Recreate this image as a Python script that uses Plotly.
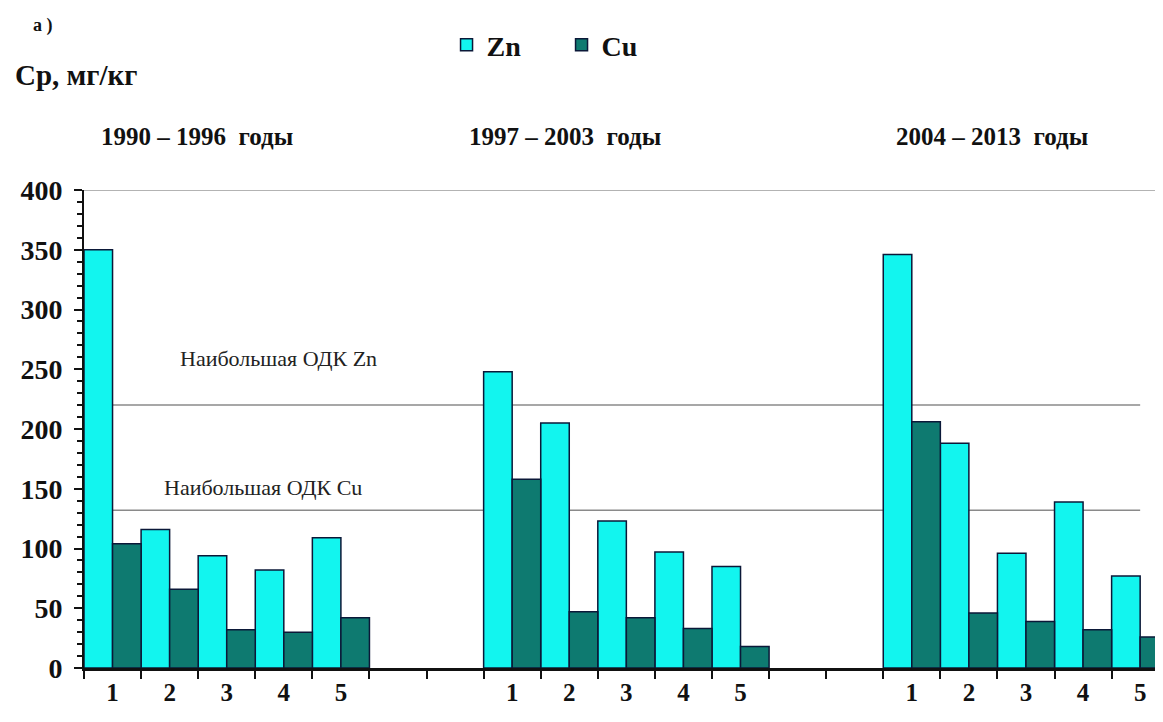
import plotly.graph_objects as go

# ---- data ----
groups = ["1990 – 1996  годы", "1997 – 2003  годы", "2004 – 2013  годы"]
sites = ["1", "2", "3", "4", "5"]
zn_1990 = [350, 116, 94, 82, 109]
cu_1990 = [104, 66, 32, 30, 42]
zn_1997 = [248, 205, 123, 97, 85]
cu_1997 = [158, 47, 42, 33, 18]
zn_2004 = [346, 188, 96, 139, 77]
cu_2004 = [206, 46, 39, 32, 26]
odk_zn = 220
odk_cu = 132
y_ticks = [0, 50, 100, 150, 200, 250, 300, 350, 400]

# positions: 5 sites per period, 2 empty slots between periods
GROUP_STEP = 7
xc = []
labels = []
for g in range(3):
    for k in range(5):
        xc.append(g * GROUP_STEP + k + 0.5)
        labels.append(sites[k])
zn = zn_1990 + zn_1997 + zn_2004
cu = cu_1990 + cu_1997 + cu_2004

SERIF = "'Times New Roman', 'Liberation Serif', 'DejaVu Serif', serif"
ZN_COLOR = "#12F5EF"
CU_COLOR = "#0E7A70"
EDGE = "#0B1838"

fig = go.Figure()
fig.add_trace(go.Bar(x=xc, y=zn, name="Zn", width=0.5, offset=-0.5,
                     marker=dict(color=ZN_COLOR, line=dict(color=EDGE, width=1.5))))
fig.add_trace(go.Bar(x=xc, y=cu, name="Cu", width=0.5, offset=0.0,
                     marker=dict(color=CU_COLOR, line=dict(color=EDGE, width=1.5))))

XMAX = 18.9
shapes = [
    dict(type="line", xref="paper", yref="y", x0=0, x1=1, y0=400, y1=400,
         line=dict(color="#9a9a9a", width=1.5), layer="below"),
    dict(type="line", xref="x", yref="y", x0=0, x1=18.5, y0=odk_zn, y1=odk_zn,
         line=dict(color="#8a8a8a", width=1.5), layer="below"),
    dict(type="line", xref="x", yref="y", x0=0, x1=18.5, y0=odk_cu, y1=odk_cu,
         line=dict(color="#8a8a8a", width=1.5), layer="below"),
]

annotations = [
    dict(text="Наибольшая ОДК Zn", x=3.4, y=259, xref="x", yref="y",
         showarrow=False, font=dict(family=SERIF, size=22, color="#222")),
    dict(text="Наибольшая ОДК Cu", x=3.13, y=151, xref="x", yref="y",
         showarrow=False, font=dict(family=SERIF, size=22, color="#222")),
    dict(text="<b>Ср, мг/кг</b>", x=-0.0658, y=1.2406, xref="paper", yref="paper",
         xanchor="left", yanchor="middle", showarrow=False,
         font=dict(family=SERIF, size=29, color="#111")),
    dict(text="<b>а )</b>", x=-0.049, y=1.345, xref="paper", yref="paper",
         xanchor="left", yanchor="middle", showarrow=False,
         font=dict(family=SERIF, size=18, color="#111")),
]
title_x = [0.105, 0.446, 0.8415]
for g in range(3):
    annotations.append(dict(text="<b>" + groups[g] + "</b>", x=title_x[g], y=1.111,
                            xref="paper", yref="paper", xanchor="center", yanchor="middle",
                            showarrow=False, font=dict(family=SERIF, size=25, color="#111")))

fig.update_layout(
    width=1155, height=714,
    margin=dict(l=76, r=0, t=182, b=54),
    paper_bgcolor="white", plot_bgcolor="white",
    barmode="overlay",
    shapes=shapes, annotations=annotations,
    showlegend=True,
    legend=dict(orientation="h", x=0.336, y=1.303, xanchor="left", yanchor="middle",
                font=dict(family=SERIF, size=28, color="#111", weight="bold"),
                entrywidth=70, bgcolor="rgba(0,0,0,0)"),
    xaxis=dict(range=[0, XMAX], tickmode="array", tickvals=xc, ticktext=labels,
               ticks="", ticklen=0, showgrid=False, zeroline=False,
               showline=True, linecolor="#111", linewidth=2.5,
               ticklabelstandoff=0,
               tickfont=dict(family=SERIF, size=25, color="#111", weight="bold"),
               minor=dict(tickmode="linear", tick0=0, dtick=1, ticks="outside",
                          ticklen=8, tickwidth=1.5, tickcolor="#111", showgrid=False)),
    yaxis=dict(range=[0, 400], tickmode="array", tickvals=y_ticks,
               ticks="outside", ticklen=8, tickwidth=2, tickcolor="#111",
               showgrid=False, zeroline=False, showline=True, linecolor="#111",
               linewidth=2, ticklabelstandoff=6,
               tickfont=dict(family=SERIF, size=28, color="#111", weight="bold"),
               minor=dict(tickmode="linear", tick0=0, dtick=10, ticks="outside",
                          ticklen=5, tickwidth=1.5, tickcolor="#111", showgrid=False)),
)

fig.write_html("out.html")
